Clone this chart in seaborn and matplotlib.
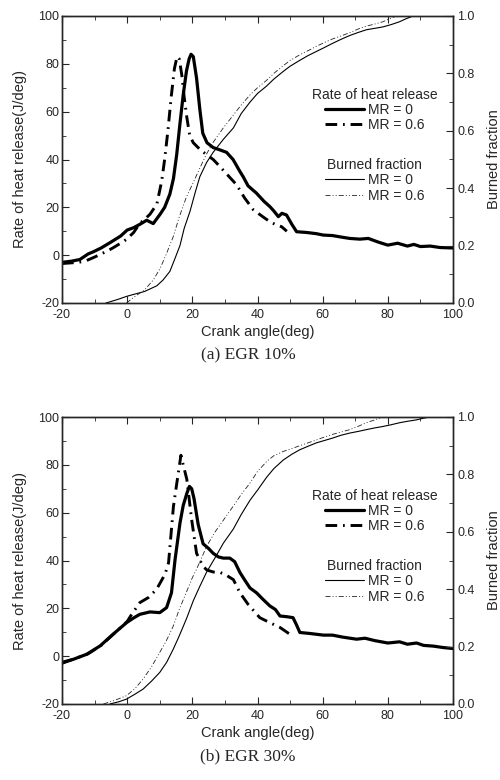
import matplotlib
matplotlib.use("Agg")
import matplotlib.pyplot as plt
import seaborn as sns
from matplotlib.ticker import MultipleLocator, FormatStrFormatter

# ---- data ----
# (a) EGR 10%  rate of heat release (J/deg)
a_rhr0_x = [-20, -17, -14.5, -12, -10.4, -8, -5.3, -2, 0, 2, 3.9, 6, 8, 10.1, 11.5, 13.1, 14.2, 15.2,
            16.2, 17.2, 18.2, 19, 19.6, 20.3, 21.3, 22.3, 23.2, 24.5, 26.4, 28.5, 30.5, 32.5, 34.6, 35.6,
            37.1, 39.7, 42, 43.8, 45, 46.4, 47.5, 48.9, 50.5, 52, 55, 58, 60.2, 63, 66, 68.3, 71.4, 74,
            77, 80, 83, 86, 88, 90, 93, 96, 100]
a_rhr0_y = [-3, -2.5, -1.8, 0.5, 1.4, 3, 5.2, 8, 10.5, 11.5, 12.9, 14.6, 13.2, 17.1, 20, 25.5, 32, 42,
            55, 67, 77, 82, 84, 83, 74, 61, 51, 47, 45, 44, 43, 40, 35, 32.8, 29, 25.9, 22.5, 20.3,
            18.5, 16.1, 17.5, 16.8, 13, 9.8, 9.5, 9.0, 8.4, 8.2, 7.5, 7.0, 6.7, 7, 5.5, 4.2, 5, 3.8,
            4.5, 3.6, 3.8, 3.2, 3.0]
a_rhr6_x = [-20, -15, -12.9, -10, -8.3, -6, -4.3, -2, -0.2, 2, 3.9, 5, 7, 9.1, 10.6, 11.5, 12.5, 13.5,
            14.5, 15.3, 16, 16.8, 17.5, 18.3, 19.2, 20.3, 22.5, 24.4, 26.4, 28.5, 30.5, 33.6, 36, 38.7,
            41.7, 43.8, 46, 47.4, 49]
a_rhr6_y = [-3.5, -3, -2.5, -0.8, 0.3, 1.8, 3.1, 5, 6.6, 9.5, 13.4, 14.5, 17.1, 21.3, 31, 40, 52, 66,
            78, 83, 82, 75, 66, 57.7, 50, 47, 44, 42, 40, 37, 34, 29.4, 24, 19, 16, 14, 12.5, 11.9, 10]
# (a) burned fraction
a_bf0_x = [-6.5, -3, -0.2, 2, 5.3, 9.1, 11, 13.1, 14.5, 16.2, 17.5, 19.3, 21, 22.3, 24.4, 26.4, 29.5,
           32.6, 35, 37.7, 40, 42.7, 45, 47.8, 50, 52.9, 55.5, 58, 60.5, 63.1, 65.5, 68.3, 71, 73.4,
           76, 78.5, 81, 83.6, 85.5, 87.7, 90, 95, 100]
a_bf0_y = [0, 0.012, 0.023, 0.03, 0.04, 0.06, 0.08, 0.11, 0.15, 0.2, 0.26, 0.32, 0.39, 0.44, 0.49,
           0.525, 0.57, 0.61, 0.66, 0.70, 0.73, 0.755, 0.78, 0.806, 0.825, 0.845, 0.862, 0.876, 0.89,
           0.905, 0.918, 0.932, 0.943, 0.952, 0.957, 0.962, 0.97, 0.98, 0.99, 1.0, 1.0, 1.0, 1.0]
a_bf6_x = [-0.2, 2, 5.3, 8, 10.1, 12, 14.1, 16, 18.2, 20.3, 22.3, 24.4, 26.4, 29.5, 32.6, 35, 37.7, 40,
           42.7, 45, 47.8, 50, 53, 56, 58, 61, 63, 66, 68.3, 71, 73.5, 76, 78.5, 80.5, 82.6, 90, 100]
a_bf6_y = [0, 0.02, 0.045, 0.08, 0.12, 0.17, 0.23, 0.30, 0.37, 0.42, 0.47, 0.52, 0.56, 0.61, 0.655,
           0.69, 0.725, 0.75, 0.775, 0.80, 0.826, 0.845, 0.865, 0.882, 0.894, 0.91, 0.92, 0.932, 0.942,
           0.955, 0.965, 0.972, 0.98, 0.99, 1.0, 1.0, 1.0]

# (b) EGR 30%  rate of heat release (J/deg)
b_rhr0_x = [-20, -16.5, -12.4, -8.3, -4.3, -0.2, 2, 3.9, 7, 10, 12.1, 13.6, 14.7, 16.2, 17.2, 18.3,
            19.1, 19.8, 20.5, 21.8, 23.3, 25, 26.4, 28, 29.5, 31.5, 33, 34.6, 36, 37.7, 39.7, 41.5,
            43.8, 45.5, 46.9, 49, 50.9, 52, 53, 56, 60.2, 63, 66, 70.4, 73, 76, 80, 83.6, 86, 88.8,
            91, 94, 97, 100]
b_rhr0_y = [-2.6, -1.3, 0.8, 4.3, 9.2, 14, 16, 17.5, 18.5, 18.2, 20.3, 26.5, 40.4, 55.6, 63, 68, 71,
            70, 66, 55, 47, 45, 43, 41.5, 41, 41, 39.5, 35, 32, 28.5, 26.5, 24, 21, 19.5, 16.8, 16.5,
            16.1, 13, 9.9, 9.5, 8.8, 8.8, 8, 7.1, 7.5, 6.5, 5.5, 6, 5, 5.5, 4.5, 4.2, 3.6, 3.2]
b_rhr6_x = [-20, -16, -12, -8, -4, 0, 1.4, 3.9, 6.5, 9, 11.6, 12.7, 14.2, 15.2, 15.7, 16.5, 17.2, 18.3,
            19.8, 21.3, 23.3, 24.5, 26.4, 28.5, 30, 32.6, 34.6, 37.1, 40.7, 43.8, 46.9, 49.9]
b_rhr6_y = [-3, -1, 1, 4.5, 9.5, 14.5, 17.5, 22.4, 24.5, 27.9, 34.2, 39, 62.6, 72, 76.6, 84, 80, 74,
            57, 43, 37.5, 36, 35.2, 35, 34.2, 32, 26.5, 21.7, 16.1, 14, 12, 9.2]
# (b) burned fraction
b_bf0_x = [-5.3, -2.5, -0.2, 2.5, 4.9, 7.5, 10, 12.1, 14.1, 15.7, 17.2, 18.3, 20.3, 22.3, 24.4, 27,
           29.5, 32.6, 35, 37.7, 40, 42.8, 45, 47.9, 50.5, 53, 55.5, 58.1, 60.5, 63.2, 65.5, 68.3, 71,
           73.4, 76, 78.5, 81, 83.6, 86, 88.8, 91, 92.9, 100]
b_bf0_y = [0, 0.008, 0.017, 0.035, 0.052, 0.08, 0.11, 0.145, 0.19, 0.23, 0.27, 0.30, 0.36, 0.41, 0.46,
           0.51, 0.56, 0.61, 0.66, 0.71, 0.745, 0.79, 0.82, 0.85, 0.87, 0.886, 0.898, 0.91, 0.918,
           0.927, 0.936, 0.944, 0.95, 0.956, 0.962, 0.967, 0.973, 0.98, 0.985, 0.99, 0.996, 1.0, 1.0]
b_bf6_x = [-7.3, -4, -0.2, 2.5, 4.9, 7.5, 10, 12, 14.1, 16, 18.2, 20, 21.3, 22.5, 24.4, 27, 29.5, 32.6,
           35, 37.7, 40, 42.8, 45, 47.9, 50.5, 53, 55.5, 58.1, 60.5, 63.2, 65.5, 68.3, 71, 73.4, 76,
           78.5, 85, 100]
b_bf6_y = [0, 0.012, 0.029, 0.055, 0.087, 0.13, 0.18, 0.22, 0.27, 0.33, 0.39, 0.44, 0.47, 0.50, 0.55,
           0.60, 0.64, 0.69, 0.73, 0.77, 0.81, 0.845, 0.865, 0.88, 0.89, 0.90, 0.91, 0.92, 0.93, 0.94,
           0.947, 0.956, 0.968, 0.98, 0.99, 1.0, 1.0, 1.0]

series_labels = ["MR = 0", "MR = 0.6"]
captions = ["(a) EGR 10%", "(b) EGR 30%"]

sns.set_style("ticks")
plt.rcParams["font.family"] = ["Liberation Sans", "DejaVu Sans"]
plt.rcParams["axes.linewidth"] = 1.0
plt.rcParams["axes.unicode_minus"] = False

fig = plt.figure(figsize=(5.0, 7.8), dpi=100)

W, H = 500.0, 780.0
panels = [
    (16, (a_rhr0_x, a_rhr0_y), (a_rhr6_x, a_rhr6_y), (a_bf0_x, a_bf0_y), (a_bf6_x, a_bf6_y)),
    (417, (b_rhr0_x, b_rhr0_y), (b_rhr6_x, b_rhr6_y), (b_bf0_x, b_bf0_y), (b_bf6_x, b_bf6_y)),
]

thick_dash = (0, (4, 2, 0.6, 2))
thin_dash = (0, (6, 2.5, 1.2, 2.5, 1.2, 2.5))

for i, (top, r0, r6, f0, f6) in enumerate(panels):
    left, right, h = 62, 453, 287
    ax = fig.add_axes([left / W, 1 - (top + h) / H, (right - left) / W, h / H])
    ax2 = ax.twinx()

    sns.lineplot(x=r0[0], y=r0[1], ax=ax, color="black", lw=2.3, legend=False)
    l_r0 = ax.lines[-1]
    sns.lineplot(x=r6[0], y=r6[1], ax=ax, color="black", lw=2.1, legend=False)
    l_r6 = ax.lines[-1]
    l_r6.set_linestyle(thick_dash)

    sns.lineplot(x=f0[0], y=f0[1], ax=ax2, color="black", lw=0.8, legend=False)
    l_f0 = ax2.lines[-1]
    sns.lineplot(x=f6[0], y=f6[1], ax=ax2, color="#222222", lw=0.6, legend=False)
    l_f6 = ax2.lines[-1]
    l_f6.set_linestyle(thin_dash)

    ax.set_xlim(-20, 100)
    ax.set_ylim(-20, 100)
    ax2.set_ylim(0, 1.0)

    ax.xaxis.set_major_locator(MultipleLocator(20))
    ax.xaxis.set_minor_locator(MultipleLocator(10))
    ax.yaxis.set_major_locator(MultipleLocator(20))
    ax.yaxis.set_minor_locator(MultipleLocator(10))
    ax2.yaxis.set_major_locator(MultipleLocator(0.2))
    ax2.yaxis.set_minor_locator(MultipleLocator(0.1))
    ax2.yaxis.set_major_formatter(FormatStrFormatter("%.1f"))

    ax.tick_params(which="both", direction="in", top=True, right=False, labelsize=9, pad=2)
    ax.tick_params(axis="x", pad=4)
    ax.tick_params(which="major", length=5)
    ax.tick_params(which="minor", length=3)
    ax2.tick_params(which="both", direction="in", labelsize=9, pad=3)
    ax2.tick_params(which="major", length=5)
    ax2.tick_params(which="minor", length=3)

    ax.set_xlabel("Crank angle(deg)", fontsize=10.5, labelpad=3)
    ax.set_ylabel("Rate of heat release(J/deg)", fontsize=10.5, labelpad=8)
    ax2.set_ylabel("Burned fraction", fontsize=10.5, labelpad=9)

    leg1 = ax2.legend([l_r0, l_r6], series_labels, title="Rate of heat release",
                      loc="upper center", bbox_to_anchor=(0.80, 0.775), frameon=False,
                      fontsize=10, title_fontsize=10, handlelength=2.8, handletextpad=0.3,
                      labelspacing=0.1, borderpad=0)
    ax2.add_artist(leg1)
    ax2.legend([l_f0, l_f6], series_labels, title="Burned fraction",
               loc="upper center", bbox_to_anchor=(0.80, 0.53), frameon=False,
               fontsize=10, title_fontsize=10, handlelength=2.8, handletextpad=0.3,
               labelspacing=0.1, borderpad=0)

    fig.text(248 / W, 1 - (top + 339) / H, captions[i], ha="center", va="center",
             fontsize=12.5, family=["Liberation Serif", "DejaVu Serif"])

fig.savefig("out.png", dpi=100)
